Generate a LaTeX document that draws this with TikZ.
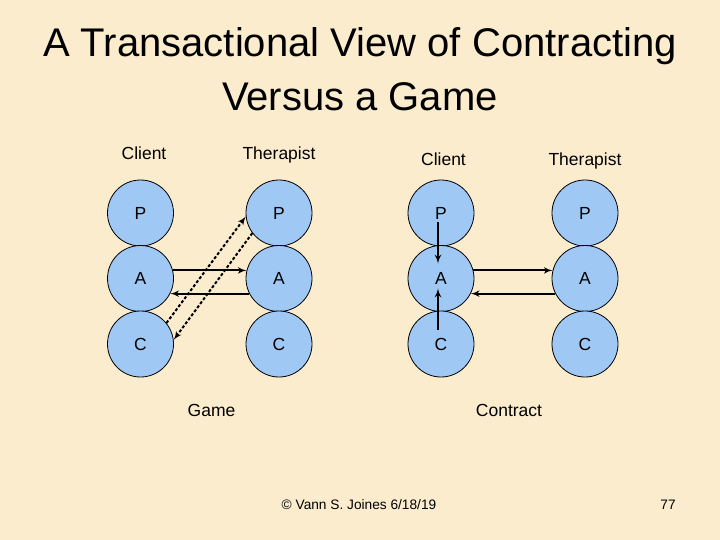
\documentclass[tikz,border=0pt]{standalone}
\usepackage{fontspec}
\setmainfont{Liberation Sans}
\usepackage{tikz}
\usetikzlibrary{arrows}
\usetikzlibrary{positioning}
\definecolor{parchment}{RGB}{251,236,206}
\definecolor{egoblue}{RGB}{160,200,245}
\tikzstyle{every node}+=[inner sep=0pt]
\tikzstyle{ego} = [circle, draw, fill=egoblue, line width=0.8pt, minimum size=66pt, font=\fontsize{17.5}{21}\selectfont, node distance=65.5pt]
\tikzstyle{tag} = [font=\fontsize{17.5}{21}\selectfont, text height=12.5pt, text depth=0pt]
\tikzstyle{foot} = [font=\fontsize{13.7}{16}\selectfont, text height=9.8pt, text depth=0pt]
\tikzstyle{line} = [draw, line width=2pt, -latex']
\tikzstyle{hidden} = [line, dash pattern=on 3pt off 2pt]

\begin{document}
\begin{tikzpicture}[x=1pt, y=-1pt]
            \fill [parchment] (0,0) rectangle (720,540);
            \useasboundingbox (0,0) rectangle (720,540);
            \node [font=\fontsize{40}{54}\selectfont, align=center, anchor=base] (title) at (360,111) {A Transactional View of Contracting\\Versus a Game};
            % Game
            \node [ego] (gCP) at (140.5,213) {P};
            \node [ego, below of=gCP] (gCA) {A};
            \node [ego, below of=gCA] (gCC) {C};
            \node [ego, right of=gCP, node distance=138.5pt] (gTP) {P};
            \node [ego, below of=gTP] (gTA) {A};
            \node [ego, below of=gTA] (gTC) {C};
            \node [tag, above of=gCP, node distance=60.2pt, xshift=3.5pt] (gC) {Client};
            \node [tag, above of=gTP, node distance=60.2pt] (gT) {Therapist};
            \node [tag, below of=gCC, node distance=66.4pt, xshift=71pt] (game) {Game};
            % Contract
            \node [ego, right of=gTP, node distance=162pt] (cCP) {P};
            \node [ego, below of=cCP] (cCA) {A};
            \node [ego, below of=cCA] (cCC) {C};
            \node [ego, right of=cCP, node distance=144pt] (cTP) {P};
            \node [ego, below of=cTP] (cTA) {A};
            \node [ego, below of=cTA] (cTC) {C};
            \node [tag, above of=cCP, node distance=54.2pt, xshift=2.5pt] (cC) {Client};
            \node [tag, above of=cTP, node distance=54.2pt] (cT) {Therapist};
            \node [tag, below of=cCC, node distance=66.4pt, xshift=68pt] (contract) {Contract};
            % Footer
            \node [foot] (credit) at (359,505) {© Vann S. Joines 6/18/19};
            \node [foot] (page) at (668,505) {77};
            % Draw edges
            \path [line] (gCA.14) -- (gTA.166);
            \path [line] (gTA.207) -- (gCA.-27);
            \path [hidden] (gCC.39) -- (gTP.186);
            \path [hidden] (gTP.217) -- (gCC.7);
            \path [line] ([xshift=-3pt, yshift=-9pt]cCP.center) -- ([xshift=-3pt, yshift=15pt]cCA.center);
            \path [line] ([xshift=-3pt, yshift=14pt]cCC.center) -- ([xshift=-3pt, yshift=-10pt]cCA.center);
            \path [line] (cCA.14) -- (cTA.166);
            \path [line] (cTA.207) -- (cCA.-27);
          \end{tikzpicture}
\end{document}
